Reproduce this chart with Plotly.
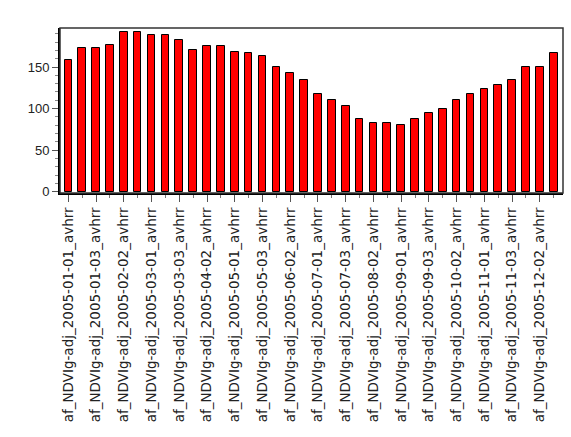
import plotly.graph_objects as go

# Dekad identifiers for 2005 (three dekads per month)
dekads = [f"af_NDVIg-adj_2005-{m:02d}-{d:02d}_avhrr" for m in range(1, 13) for d in (1, 2, 3)]

# Mean NDVI value per dekad
ndvi = [158, 173, 173, 177, 192, 192, 189, 189, 182, 170, 175, 175,
        168, 167, 163, 150, 143, 135, 118, 110, 103, 87, 83, 83,
        80, 87, 95, 100, 110, 118, 123, 128, 135, 150, 150, 167]

x_pos = list(range(len(dekads)))
tick_pos = x_pos[::2]
tick_text = dekads[::2]

fig = go.Figure(
    go.Bar(
        x=x_pos,
        y=ndvi,
        width=0.55,
        marker=dict(color="#ff0000", line=dict(color="#000000", width=1)),
        hoverinfo="x+y",
    )
)

fig.update_layout(
    width=571,
    height=437,
    margin=dict(l=60, r=8, t=28, b=244),
    paper_bgcolor="white",
    plot_bgcolor="white",
    showlegend=False,
    bargap=0,
)

fig.update_xaxes(
    range=[-0.6, 35.67],
    tickmode="array",
    tickvals=tick_pos,
    ticktext=tick_text,
    tickangle=-90,
    ticks="outside",
    ticklen=7,
    tickwidth=1,
    tickcolor="#555555",
    tickfont=dict(family="DejaVu Sans", size=13.5, color="#222222"),
    minor=dict(dtick=1, tick0=0, ticks="outside", ticklen=3, tickcolor="#777777", showgrid=False),
    showgrid=False,
    zeroline=False,
    showline=True,
    linewidth=2,
    linecolor="#000000",
)

fig.update_yaxes(
    range=[-1.6, 197],
    tickmode="linear",
    tick0=0,
    dtick=50,
    ticks="outside",
    ticklen=6,
    tickwidth=1,
    tickcolor="#555555",
    tickfont=dict(family="Liberation Sans, Arial", size=13, color="#222222"),
    minor=dict(dtick=10, ticks="outside", ticklen=3, tickcolor="#888888", showgrid=False),
    showgrid=False,
    zeroline=False,
    showline=True,
    linewidth=2,
    linecolor="#000000",
)

# Thin frame around the plotting area
fig.add_shape(
    type="rect", xref="x domain", yref="y domain",
    x0=0, x1=1, y0=0, y1=1,
    line=dict(color="#333333", width=1.5),
    layer="above",
)

fig.write_html("out.html")
